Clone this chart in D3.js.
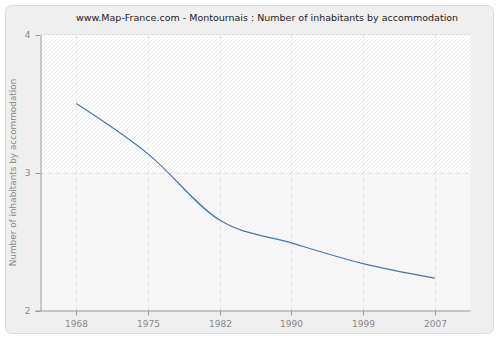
<!DOCTYPE html>
<html><head><meta charset="utf-8">
<script src="https://cdn.jsdelivr.net/npm/d3@7"></script>
<style>html,body{margin:0;padding:0;background:#fff;}svg{display:block;}</style>
</head><body>
<svg id="c" width="500" height="340"></svg>
<script>
const years = ["1968","1975","1982","1990","1999","2007"];
const values = [3.50, 3.135, 2.655, 2.49, 2.34, 2.235];
const yTicks = [2, 3, 4];
const title = "www.Map-France.com - Montournais : Number of inhabitants by accommodation";
const yLabel = "Number of inhabitants by accommodation";

const svg = d3.select("#c");
const font = "DejaVu Sans, Verdana, sans-serif";
const L = 40.5, R = 470.5, T = 34.5, B = 310.5;

const defs = svg.append("defs");
const p1 = defs.append("pattern").attr("id","h1").attr("patternUnits","userSpaceOnUse")
  .attr("width",4).attr("height",4);
p1.append("rect").attr("width",4).attr("height",4).attr("fill","#ffffff");
p1.append("path").attr("d","M-1,1 l2,-2 M0,4 l4,-4 M3,5 l2,-2").attr("stroke","#ebebeb").attr("stroke-width",1);
const p2 = defs.append("pattern").attr("id","h2").attr("patternUnits","userSpaceOnUse")
  .attr("width",4).attr("height",4);
p2.append("rect").attr("width",4).attr("height",4).attr("fill","#f8f8f8");
p2.append("path").attr("d","M-1,1 l2,-2 M0,4 l4,-4 M3,5 l2,-2").attr("stroke","#f1f1f1").attr("stroke-width",1);

svg.append("rect").attr("x",5.5).attr("y",5.5).attr("width",488).attr("height",328)
  .attr("rx",6).attr("fill","#efefef").attr("stroke","#dcdcdc");

const x = d3.scalePoint().domain(years).range([L, R]).padding(0.5);
const y = d3.scaleLinear().domain([2,4]).range([B, T]);

svg.append("rect").attr("x",L).attr("y",y(4)).attr("width",R-L).attr("height",y(3)-y(4)).attr("fill","url(#h1)");
svg.append("rect").attr("x",L).attr("y",y(3)).attr("width",R-L).attr("height",y(2)-y(3)).attr("fill","url(#h2)");
svg.append("line").attr("x1",L).attr("x2",R).attr("y1",T).attr("y2",T).attr("stroke","#e2e2e2");

// grid
svg.append("g").selectAll("line").data(years).join("line")
  .attr("x1",d=>Math.round(x(d))+0.5).attr("x2",d=>Math.round(x(d))+0.5)
  .attr("y1",T).attr("y2",B).attr("stroke","#e0e0e0").attr("stroke-dasharray","4,4");
svg.append("g").selectAll("line").data(yTicks.filter(v=>v>2&&v<4)).join("line")
  .attr("x1",L).attr("x2",R).attr("y1",d=>Math.round(y(d))+0.5).attr("y2",d=>Math.round(y(d))+0.5)
  .attr("stroke","#e0e0e0").attr("stroke-dasharray","4,4");

// axes
const xAxis = d3.axisBottom(x).tickSize(5).tickPadding(5).tickSizeOuter(0);
const gx = svg.append("g").attr("transform",`translate(0,${B})`).call(xAxis);
gx.select(".domain").attr("d",`M${L-5},0.5H${R}`);
const yAxis = d3.axisLeft(y).tickValues(yTicks).tickFormat(d3.format("d")).tickSize(5).tickPadding(5).tickSizeOuter(0);
const gy = svg.append("g").attr("transform",`translate(${L},0)`).call(yAxis);
[gx, gy].forEach(g=>{
  g.select(".domain").attr("stroke","#999");
  g.selectAll(".tick line").attr("stroke","#999");
  g.selectAll(".tick text").attr("fill","#888").attr("font-family",font).attr("font-size",9);
});
gy.selectAll(".tick").attr("transform",d=>`translate(0,${Math.round(y(d))+0.5})`);
gx.selectAll(".tick").attr("transform",d=>`translate(${Math.round(x(d))+0.5},0)`);

// line
const line = d3.line().x((d,i)=>x(years[i])).y(d=>y(d)).curve(d3.curveMonotoneX);
svg.append("path").datum(values).attr("d",line).attr("fill","none")
  .attr("stroke","#4a76aa").attr("stroke-width",1.2);

svg.append("text").attr("x",267).attr("y",21).attr("text-anchor","middle")
  .attr("font-family",font).attr("font-size",9.5).attr("fill","#222").text(title);
svg.append("text").attr("transform",`translate(16,${(T+B)/2}) rotate(-90)`).attr("text-anchor","middle")
  .attr("font-family",font).attr("font-size",8.9).attr("fill","#888").text(yLabel);
</script>
</body></html>
